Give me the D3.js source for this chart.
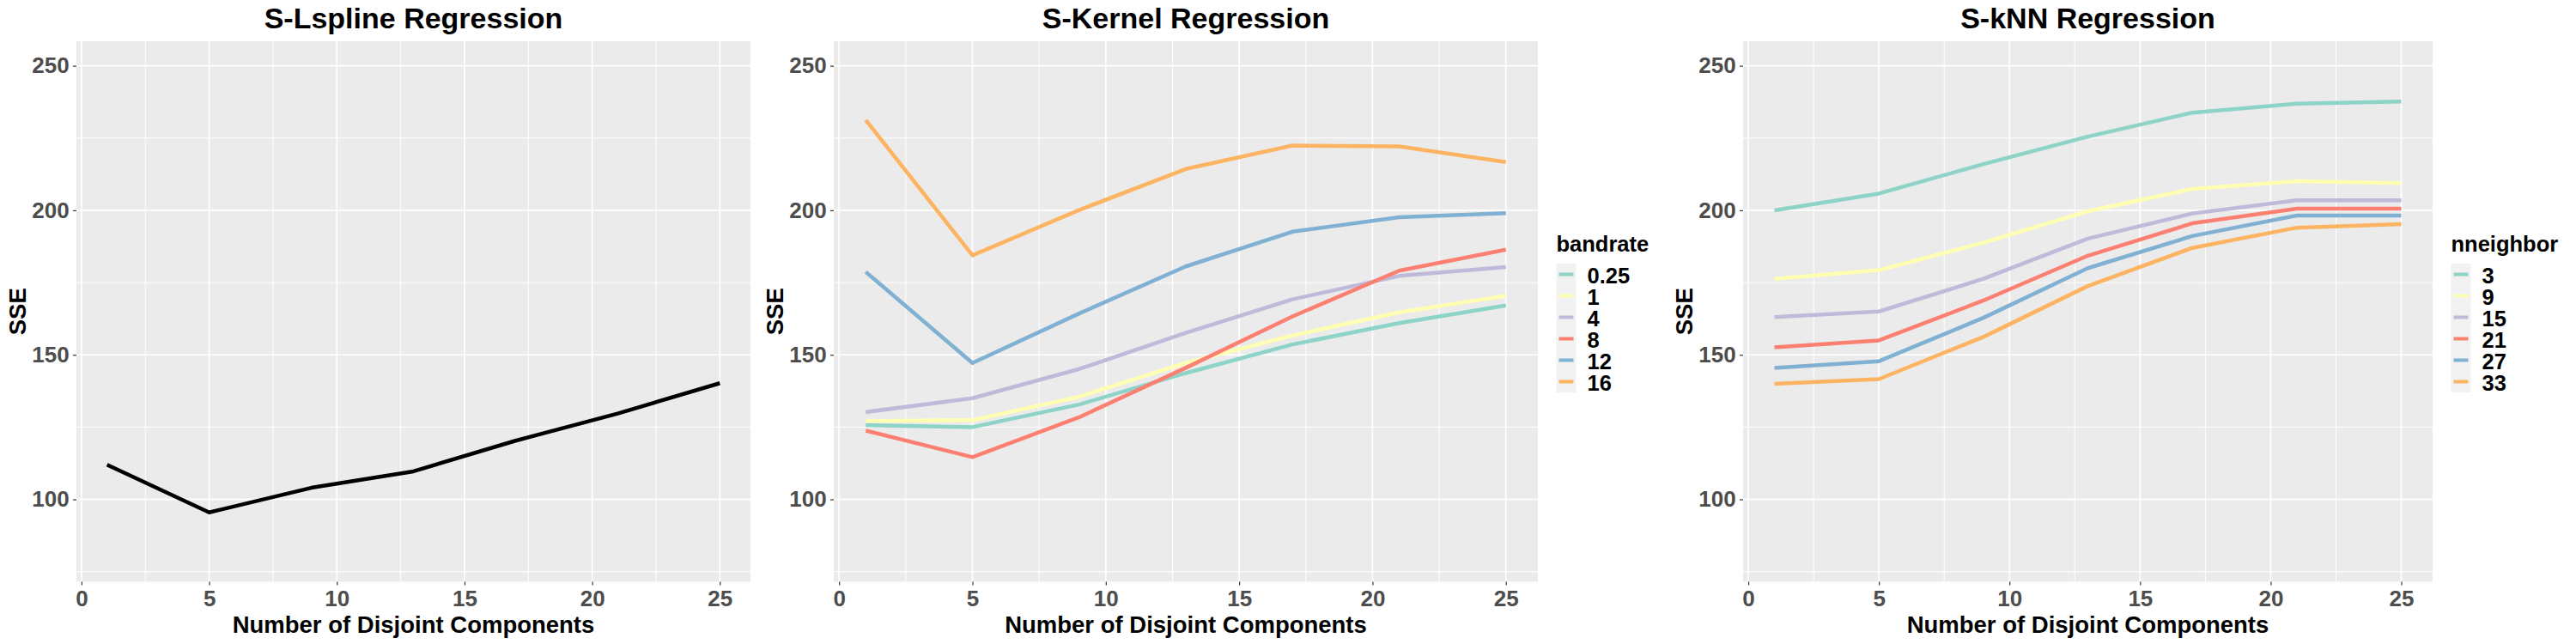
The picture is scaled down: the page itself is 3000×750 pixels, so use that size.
<!DOCTYPE html>
<html>
<head>
<meta charset="utf-8">
<script src="https://cdn.jsdelivr.net/npm/d3@7"></script>
<style>
  body { margin: 0; background: #ffffff; }
  svg text { font-family: "Liberation Sans", Arial, sans-serif; font-weight: bold; }
</style>
</head>
<body>
<div id="vis"></div>
<script>
const FRAME_WIDTH = 3000;
const FRAME_HEIGHT = 750;
const PLOT_TOP = 48;
const PLOT_BOTTOM = 677.5;

// data
const X_VALUES = [1, 5, 9, 13, 17, 21, 25];
const X_TICKS = [0, 5, 10, 15, 20, 25];
const Y_TICKS = [100, 150, 200, 250];
const Y_LIMITS = [80, 250];

const LSPLINE_SSE = [112.0, 95.5, 104.0, 109.7, 120.3, 129.7, 140.2];

const BANDRATES = ["0.25", "1", "4", "8", "12", "16"];
const KERNEL_BW_0_25 = [125.7, 125.0, 132.8, 143.7, 153.6, 161.0, 167.1];
const KERNEL_BW_1 = [127.1, 127.4, 135.5, 147.2, 156.7, 164.7, 170.4];
const KERNEL_BW_4 = [130.2, 135.0, 145.1, 157.6, 169.2, 177.3, 180.4];
const KERNEL_BW_8 = [123.8, 114.6, 128.4, 145.5, 163.3, 179.1, 186.4];
const KERNEL_BW_12 = [178.7, 147.2, 164.3, 180.6, 192.6, 197.6, 199.0];
const KERNEL_BW_16 = [231.2, 184.4, 200.1, 214.3, 222.4, 222.1, 216.7];

const NNEIGHBORS = ["3", "9", "15", "21", "27", "33"];
const KNN_K3 = [200.0, 205.8, 216.0, 225.5, 233.8, 236.9, 237.6];
const KNN_K9 = [176.3, 179.3, 188.8, 199.7, 207.4, 210.1, 209.4];
const KNN_K15 = [163.1, 165.0, 176.3, 190.2, 198.9, 203.5, 203.5];
const KNN_K21 = [152.6, 155.0, 168.8, 184.3, 195.5, 200.6, 200.6];
const KNN_K27 = [145.5, 147.8, 162.8, 180.0, 191.1, 198.2, 198.2];
const KNN_K33 = [140.0, 141.6, 156.2, 173.8, 187.0, 194.0, 195.2];

const SET3 = ["#8DD3C7", "#FFFFB3", "#BEBADA", "#FB8072", "#80B1D3", "#FDB462"];

const SVG = d3.select("#vis")
  .append("svg")
  .attr("width", FRAME_WIDTH)
  .attr("height", FRAME_HEIGHT);

SVG.append("rect").attr("width", FRAME_WIDTH).attr("height", FRAME_HEIGHT).attr("fill", "#ffffff");

// ggplot style 5% expansion
function expand(lo, hi) {
  const pad = (hi - lo) * 0.05;
  return [lo - pad, hi + pad];
}

function drawPanel(opts) {
  const g = SVG.append("g");
  const xDom = expand(d3.min(X_VALUES), d3.max(X_VALUES));
  const yDom = expand(Y_LIMITS[0], Y_LIMITS[1]);

  const X = d3.scaleLinear().domain(xDom).range([opts.left, opts.right]);
  const Y = d3.scaleLinear().domain(yDom).range([PLOT_BOTTOM, PLOT_TOP]);

  g.append("rect")
    .attr("x", opts.left).attr("y", PLOT_TOP)
    .attr("width", opts.right - opts.left)
    .attr("height", PLOT_BOTTOM - PLOT_TOP)
    .attr("fill", "#EBEBEB");

  // minor grid, halfway between majors
  const xMinor = X_TICKS.slice(1).map((t, i) => (t + X_TICKS[i]) / 2);
  const yMinor = [Y_TICKS[0] - 25].concat(Y_TICKS.slice(1).map((t, i) => (t + Y_TICKS[i]) / 2));

  g.selectAll(".xminor").data(xMinor).enter().append("line")
    .attr("x1", (d) => X(d)).attr("x2", (d) => X(d))
    .attr("y1", PLOT_TOP).attr("y2", PLOT_BOTTOM)
    .attr("stroke", "#ffffff").attr("stroke-width", 1);
  g.selectAll(".yminor").data(yMinor).enter().append("line")
    .attr("x1", opts.left).attr("x2", opts.right)
    .attr("y1", (d) => Y(d)).attr("y2", (d) => Y(d))
    .attr("stroke", "#ffffff").attr("stroke-width", 1);

  g.selectAll(".xmajor").data(X_TICKS).enter().append("line")
    .attr("x1", (d) => X(d)).attr("x2", (d) => X(d))
    .attr("y1", PLOT_TOP).attr("y2", PLOT_BOTTOM)
    .attr("stroke", "#ffffff").attr("stroke-width", 1.7);
  g.selectAll(".ymajor").data(Y_TICKS).enter().append("line")
    .attr("x1", opts.left).attr("x2", opts.right)
    .attr("y1", (d) => Y(d)).attr("y2", (d) => Y(d))
    .attr("stroke", "#ffffff").attr("stroke-width", 1.7);

  const line = d3.line()
    .x((d, i) => X(X_VALUES[i]))
    .y((d) => Y(d));

  opts.series.forEach((s, i) => {
    g.append("path")
      .datum(s)
      .attr("d", line)
      .attr("fill", "none")
      .attr("stroke", opts.colors[i])
      .attr("stroke-width", 4.5)
      .attr("stroke-linejoin", "round");
  });

  // axes
  const xAxis = g.append("g")
    .attr("transform", "translate(0," + PLOT_BOTTOM + ")")
    .call(d3.axisBottom(X).tickValues(X_TICKS).tickSize(4).tickPadding(6.5));
  const yAxis = g.append("g")
    .attr("transform", "translate(" + opts.left + ",0)")
    .call(d3.axisLeft(Y).tickValues(Y_TICKS).tickSize(4).tickPadding(4.3));

  [xAxis, yAxis].forEach((a) => {
    a.select(".domain").remove();
    a.selectAll(".tick line").attr("stroke", "#333333").attr("stroke-width", 1.2);
    a.selectAll(".tick text")
      .attr("fill", "#4D4D4D")
      .attr("font-size", "26px");
  });

  const cx = (opts.left + opts.right) / 2;
  g.append("text")
    .attr("x", cx).attr("y", 32.5)
    .attr("text-anchor", "middle")
    .attr("font-size", "34px")
    .attr("fill", "#000000")
    .text(opts.title);

  g.append("text")
    .attr("x", cx).attr("y", 736.5)
    .attr("text-anchor", "middle")
    .attr("font-size", "27.5px")
    .attr("fill", "#000000")
    .text("Number of Disjoint Components");

  g.append("text")
    .attr("transform", "translate(" + (opts.left - 59) + "," + ((PLOT_TOP + PLOT_BOTTOM) / 2) + ") rotate(-90)")
    .attr("text-anchor", "middle")
    .attr("font-size", "27.5px")
    .attr("fill", "#000000")
    .text("SSE");

  if (opts.legendTitle) {
    const lx = opts.right + 21.5;
    const lg = g.append("g");
    lg.append("text")
      .attr("x", lx).attr("y", 292.7)
      .attr("font-size", "25.5px")
      .attr("fill", "#000000")
      .text(opts.legendTitle);
    const keyTop = 307;
    const keyH = 25;
    const keyW = 23;
    lg.append("rect")
      .attr("x", lx).attr("y", keyTop)
      .attr("width", keyW).attr("height", keyH * opts.labels.length)
      .attr("fill", "#F2F2F2");
    opts.labels.forEach((lab, i) => {
      const cy = keyTop + keyH * i + keyH / 2;
      lg.append("line")
        .attr("x1", lx + 3).attr("x2", lx + keyW - 3)
        .attr("y1", cy).attr("y2", cy)
        .attr("stroke", opts.colors[i])
        .attr("stroke-width", 4);
      lg.append("text")
        .attr("x", lx + 36).attr("y", cy)
        .attr("dy", "0.41em")
        .attr("font-size", "25.5px")
        .attr("fill", "#000000")
        .text(lab);
    });
  }
}

drawPanel({
  left: 89, right: 874,
  title: "S-Lspline Regression",
  series: [LSPLINE_SSE],
  colors: ["#000000"]
});

drawPanel({
  left: 971, right: 1791,
  title: "S-Kernel Regression",
  series: [KERNEL_BW_0_25, KERNEL_BW_1, KERNEL_BW_4, KERNEL_BW_8, KERNEL_BW_12, KERNEL_BW_16],
  colors: SET3,
  legendTitle: "bandrate",
  labels: BANDRATES
});

drawPanel({
  left: 2030, right: 2833,
  title: "S-kNN Regression",
  series: [KNN_K3, KNN_K9, KNN_K15, KNN_K21, KNN_K27, KNN_K33],
  colors: SET3,
  legendTitle: "nneighbor",
  labels: NNEIGHBORS
});
</script>
</body>
</html>
